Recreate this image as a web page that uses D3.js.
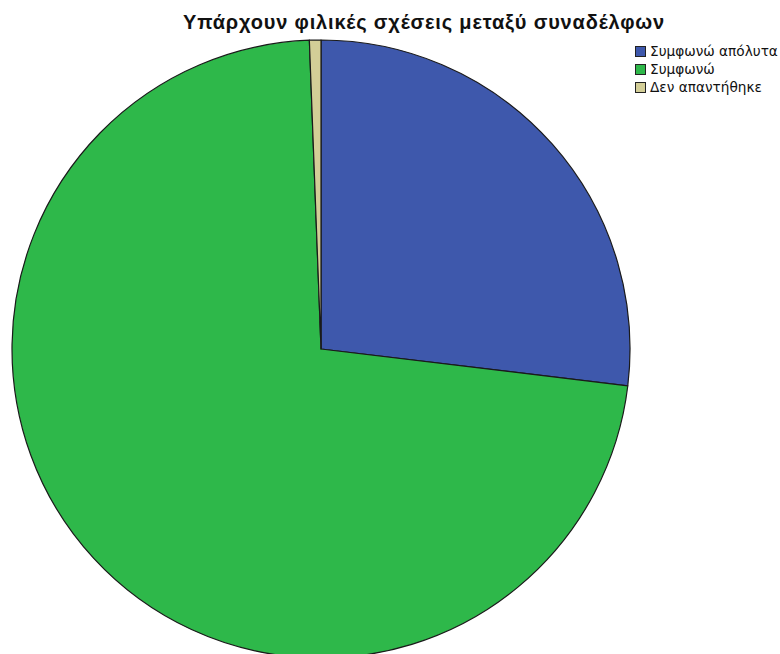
<!DOCTYPE html>
<html><head><meta charset="utf-8">
<script src="https://cdn.jsdelivr.net/npm/d3@7"></script>
<style>body{margin:0;background:#fff}svg{display:block}</style>
</head><body>
<script>
const title = "Υπάρχουν φιλικές σχέσεις μεταξύ συναδέλφων";
const categories = ["Συμφωνώ απόλυτα", "Συμφωνώ", "Δεν απαντήθηκε"];
const values = [26.9, 72.5, 0.6];
const colors = ["#3e58ac", "#2eb84a", "#d3ce97"];

const W = 780, H = 654;
const svg = d3.select("body").append("svg").attr("width", W).attr("height", H);
const cx = 321, cy = 349, r = 309;

const pie = d3.pie().sort(null).value(d => d)(values);
const arc = d3.arc().innerRadius(0).outerRadius(r);
svg.append("g").attr("transform", `translate(${cx},${cy})`)
  .selectAll("path").data(pie).join("path")
  .attr("d", arc)
  .attr("fill", (d, i) => colors[i])
  .attr("stroke", "#1a1a1a").attr("stroke-width", 1.2).attr("stroke-linejoin", "round");

const font = "DejaVu Sans, Verdana, sans-serif";
const t = svg.append("text").attr("x", 424).attr("y", 29).attr("text-anchor", "middle")
  .attr("font-family", "Liberation Sans, Arial, sans-serif").attr("font-weight", "bold")
  .attr("font-size", 20).attr("fill", "#111").text(title);
// spread the title to the reference width
const tw = t.node().getComputedTextLength();
t.attr("letter-spacing", (482 - tw) / title.length);

const lg = svg.append("g").attr("transform", "translate(635,46)");
const items = lg.selectAll("g").data(categories).join("g")
  .attr("transform", (d, i) => `translate(0,${i * 18})`);
items.append("rect").attr("x", 0.5).attr("y", 0.5).attr("width", 10).attr("height", 10)
  .attr("fill", (d, i) => colors[i]).attr("stroke", "#222").attr("stroke-width", 1);
const lt = items.append("text").attr("x", 15).attr("y", 10)
  .attr("font-family", font).attr("font-size", 12)
  .attr("fill", "#111").text(d => d);
const lw = lt.nodes()[0].getComputedTextLength();
lt.attr("font-size", 12 * 128 / lw);
</script>
</body></html>
